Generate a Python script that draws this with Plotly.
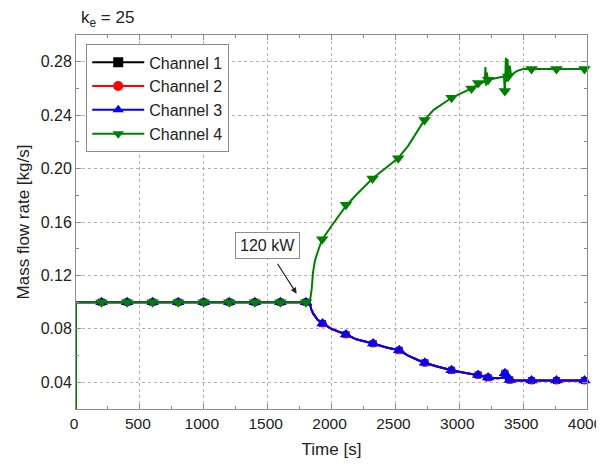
import plotly.graph_objects as go

# ---------------- data ----------------
# Channels 1-3 (identical) : dense line
t_low = [0, 0, 1830, 1840, 1857, 1890, 1930, 2000, 2113, 2200, 2326, 2430, 2530, 2600,
         2680, 2731, 2820, 2940, 3050, 3148, 3200, 3212, 3226, 3300, 3350, 3357, 3368,
         3380, 3390, 3400, 3412, 3450, 4000]
m_low = [0.0, 0.100, 0.100, 0.095, 0.0914, 0.087, 0.084, 0.080, 0.0758, 0.072, 0.069, 0.066,
         0.064, 0.060, 0.0565, 0.0546, 0.052, 0.049, 0.047, 0.0455, 0.0445, 0.0420, 0.0435,
         0.043, 0.0435, 0.0467, 0.0405, 0.0470, 0.0400, 0.0440, 0.0415, 0.0413, 0.0413]
# Channel 4 : dense line
t_high = [0, 0, 1830, 1845, 1855, 1870, 1900, 1927, 2000, 2113, 2200, 2321, 2420, 2522,
          2600, 2680, 2728, 2800, 2940, 3096, 3148, 3200, 3205, 3210, 3215, 3226, 3300,
          3350, 3357, 3365, 3372, 3378, 3383, 3395, 3405, 3450, 3500, 4000]
m_high = [0.0, 0.100, 0.100, 0.110, 0.122, 0.131, 0.140, 0.147, 0.157, 0.172, 0.181, 0.1925,
          0.200, 0.2078, 0.217, 0.229, 0.2364, 0.244, 0.253, 0.260, 0.263, 0.265, 0.276,
          0.262, 0.272, 0.2665, 0.268, 0.269, 0.257, 0.283, 0.265, 0.282, 0.269, 0.277,
          0.270, 0.273, 0.2745, 0.2745]

# marker positions
mk_t_low = [200, 400, 600, 800, 1000, 1200, 1400, 1600, 1800, 1930, 2113, 2326, 2530,
            2731, 2940, 3148, 3226, 3357, 3396, 3566, 3761, 3980]
mk_m_low = [0.100] * 9 + [0.084, 0.0758, 0.069, 0.064, 0.0546, 0.049, 0.0455, 0.0435,
                          0.0467, 0.0418, 0.0413, 0.0413, 0.0413]
mk_t_high = [200, 400, 600, 800, 1000, 1200, 1400, 1600, 1800, 1927, 2113, 2321, 2522,
             2728, 2940, 3096, 3148, 3226, 3357, 3383, 3566, 3761, 3980]
mk_m_high = [0.100] * 9 + [0.147, 0.173, 0.1926, 0.2078, 0.2364, 0.253, 0.260, 0.264,
                           0.2665, 0.258, 0.269, 0.2745, 0.2745, 0.2745]

channels = ["Channel 1", "Channel 2", "Channel 3", "Channel 4"]
colors = ["#000000", "#ff0000", "#0000ff", "#008000"]
symbols = ["square", "circle", "triangle-up", "triangle-down"]
sizes = [7, 8, 11, 11]

x_ticks = [0, 500, 1000, 1500, 2000, 2500, 3000, 3500, 4000]
y_ticks = [0.04, 0.08, 0.12, 0.16, 0.20, 0.24, 0.28]

FONT = "Liberation Sans, Arial, sans-serif"

fig = go.Figure()
for i, name in enumerate(channels):
    if i < 3:
        tl, ml, tm, mm = t_low, m_low, mk_t_low, mk_m_low
    else:
        tl, ml, tm, mm = t_high, m_high, mk_t_high, mk_m_high
    fig.add_trace(go.Scatter(x=tl, y=ml, mode="lines", showlegend=False,
                             line=dict(color=colors[i], width=2), hoverinfo="skip"))
    fig.add_trace(go.Scatter(x=tm, y=mm, mode="markers", showlegend=False,
                             marker=dict(color=colors[i], symbol=symbols[i], size=sizes[i]),
                             cliponaxis=False))
# legend entries
for i, name in enumerate(channels):
    fig.add_trace(go.Scatter(x=[None], y=[None], mode="lines+markers", name=name,
                             line=dict(color=colors[i], width=2),
                             marker=dict(color=colors[i], symbol=symbols[i], size=10)))

axis_common = dict(
    showline=True, linecolor="#8c8c8c", linewidth=1, mirror="ticks",
    ticks="inside", ticklen=5, tickcolor="#8c8c8c", automargin=False,
    showgrid=True, gridcolor="#b4b4b4", griddash="dot", gridwidth=1,
    zeroline=False, ticklabeloverflow="allow",
)

fig.update_xaxes(range=[0, 4000], tickvals=x_ticks,
                 tickfont=dict(size=15.5, color="#222", family=FONT),
                 minor=dict(dtick=250, ticks="inside", ticklen=3, tickcolor="#8c8c8c",
                            showgrid=False),
                 title=dict(text="Time [s]", font=dict(size=17, color="#222", family=FONT),
                            standoff=12),
                 ticklabelshift=-2,
                 **axis_common)
fig.update_yaxes(range=[0.02, 0.30], tickvals=y_ticks, tickformat=".2f",
                 tickfont=dict(size=16, color="#222", family=FONT),
                 minor=dict(dtick=0.02, tick0=0.0, ticks="inside", ticklen=3,
                            tickcolor="#8c8c8c", showgrid=False),
                 title=dict(text="Mass flow rate [kg/s]",
                            font=dict(size=17, color="#222", family=FONT), standoff=6),
                 **axis_common)

fig.add_annotation(x=1727, y=0.1063, ax=1570, ay=0.1299, xref="x", yref="y",
                   axref="x", ayref="y", text="", showarrow=True, arrowhead=2,
                   arrowsize=1, arrowwidth=1.2, arrowcolor="#222")
fig.add_annotation(x=1500, y=0.1424, xref="x", yref="y", text="120 kW", showarrow=False,
                   font=dict(size=16, color="#222", family=FONT),
                   bordercolor="#8c8c8c", borderwidth=1, borderpad=4, bgcolor="white")
fig.add_annotation(x=0, y=1, xref="paper", yref="paper", xanchor="left", yanchor="bottom",
                   yshift=3, xshift=3, text="k<sub>e</sub> = 25", showarrow=False,
                   font=dict(size=17, color="#222", family=FONT))

fig.update_layout(
    width=596, height=457,
    margin=dict(l=68, r=17, t=27, b=56),
    paper_bgcolor="white", plot_bgcolor="white",
    font=dict(family=FONT, color="#222"),
    legend=dict(x=0.02, y=0.975, xanchor="left", yanchor="top",
                bgcolor="white", bordercolor="#8c8c8c", borderwidth=1,
                itemwidth=52,
                font=dict(size=16, color="#222", family=FONT)),
)

fig.write_html("out.html")
